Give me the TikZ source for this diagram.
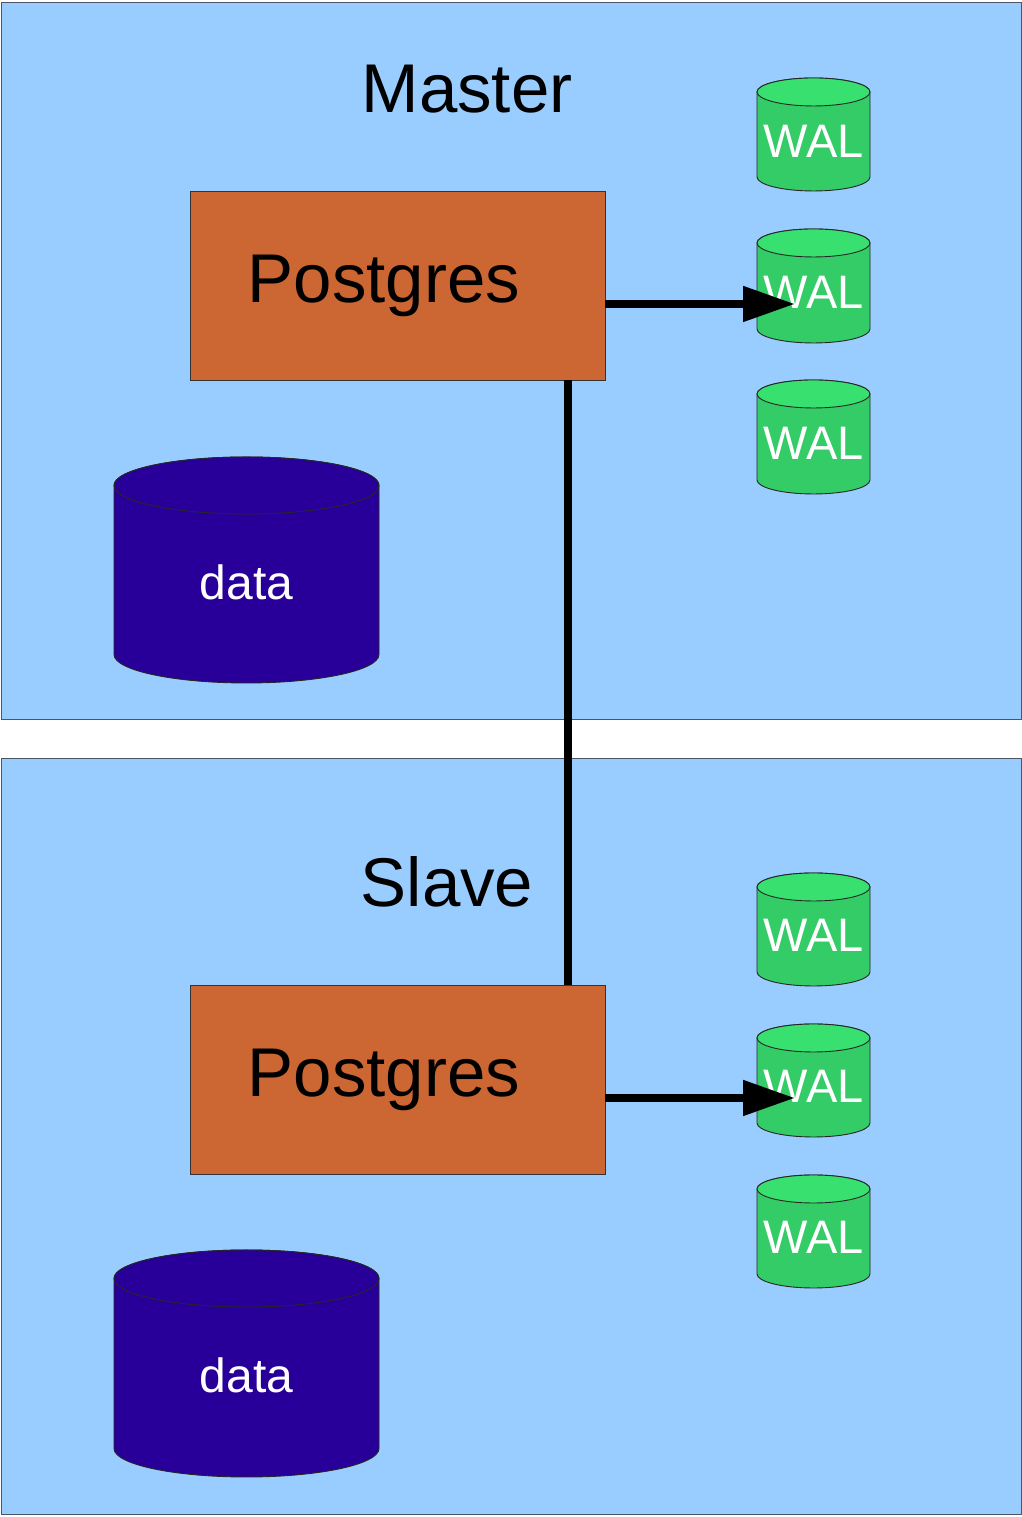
\documentclass[tikz,border=0pt]{standalone}
\usepackage{fontspec}
\setmainfont{Liberation Sans}
\usetikzlibrary{arrows.meta}
\definecolor{panelfill}{HTML}{99CCFF}
\definecolor{paneldraw}{HTML}{4A5666}
\definecolor{pgfill}{HTML}{CC6633}
\definecolor{walbody}{HTML}{33CC66}
\definecolor{waltop}{HTML}{38E070}
\definecolor{datafill}{HTML}{280099}
\tikzset{
  panel/.style={fill=panelfill,draw=paneldraw,line width=1pt},
  pgbox/.style={rectangle,fill=pgfill,draw=black!80,line width=0.8pt,minimum width=415pt,minimum height=189pt,inner sep=0pt,outer sep=0pt},
  bigtext/.style={anchor=base,inner sep=0pt,font=\fontsize{69}{80}\selectfont,text=black},
  waltext/.style={anchor=base,inner sep=0pt,font=\fontsize{47}{54}\selectfont,text=white},
  datatext/.style={anchor=base,inner sep=0pt,font=\fontsize{48}{54}\selectfont,text=white},
  cylbody/.style={draw=black!85,line width=0.9pt},
  flow/.style={line width=8pt,-{Triangle[length=52pt,width=34pt]}},
  link/.style={line width=8pt},
}
% #1 name, #2 cx, #3 ytop (px from top), #4 ybot, #5 rx, #6 ry, #7 body colour, #8 top colour
\newcommand\drawcyl[8]{%
  \path[cylbody,fill=#7] ({#2-#5},{1517-#3-#6}) -- ({#2-#5},{1517-#4+#6})
    arc[start angle=180,end angle=360,x radius=#5,y radius=#6]
    -- ({#2+#5},{1517-#3-#6})
    arc[start angle=0,end angle=180,x radius=#5,y radius=#6] -- cycle;
  \path[cylbody,fill=#8] (#2,{1517-#3-#6}) ellipse[x radius=#5,y radius=#6];
  \coordinate (#1) at (#2,{(3034-#3-#4)/2});
}
\begin{document}
\begin{tikzpicture}[x=1pt,y=1pt]
\useasboundingbox (0,0) rectangle (1022,1517);
% panels
\path[panel] (1,797) rectangle (1021,1514);
\path[panel] (1,2) rectangle (1021,758);
% master
\node[pgbox] (pgM) at (397.5,1231.5) {};
\node[bigtext] (masterT) at (467,1404) {Master};
\node[bigtext] (pgMt) at (384,1214) {Postgres};
\drawcyl{walM1}{813.5}{78}{191}{56.5}{14}{walbody}{waltop}
\drawcyl{walM2}{813.5}{229}{343}{56.5}{14}{walbody}{waltop}
\drawcyl{walM3}{813.5}{380}{494}{56.5}{14}{walbody}{waltop}
\node[waltext] (walM1t) at (814,{1517-158}) {WAL};
\node[waltext] (walM2t) at (814,{1517-309}) {WAL};
\node[waltext] (walM3t) at (814,{1517-460}) {WAL};
\drawcyl{dataM}{246.5}{457}{683}{132.5}{28.5}{datafill}{datafill}
\node[datatext] (dataMt) at (246.5,{1517-600}) {data};
% slave
\node[pgbox] (pgS) at (397.5,{1231.5-794}) {};
\node[bigtext] (slaveT) at (447,{1404-794}) {Slave};
\node[bigtext] (pgSt) at (384,{1214-794}) {Postgres};
\drawcyl{walS1}{813.5}{873}{986}{56.5}{14}{walbody}{waltop}
\drawcyl{walS2}{813.5}{1024}{1137}{56.5}{14}{walbody}{waltop}
\drawcyl{walS3}{813.5}{1175}{1288}{56.5}{14}{walbody}{waltop}
\node[waltext] (walS1t) at (814,{1517-952}) {WAL};
\node[waltext] (walS2t) at (814,{1517-1103}) {WAL};
\node[waltext] (walS3t) at (814,{1517-1254}) {WAL};
\drawcyl{dataS}{246.5}{1250}{1477}{132.5}{28.5}{datafill}{datafill}
\node[datatext] (dataSt) at (246.5,{1517-1393}) {data};
% connectors
\coordinate (aM) at (795,{1517-304});
\coordinate (aS) at (795,{1517-1098});
\coordinate (vx) at (568,0);
\draw[flow] (pgM.east |- aM) -- (aM);
\draw[flow] (pgS.east |- aS) -- (aS);
\draw[link] (pgM.south -| vx) -- (pgS.north -| vx);
\end{tikzpicture}
\end{document}
